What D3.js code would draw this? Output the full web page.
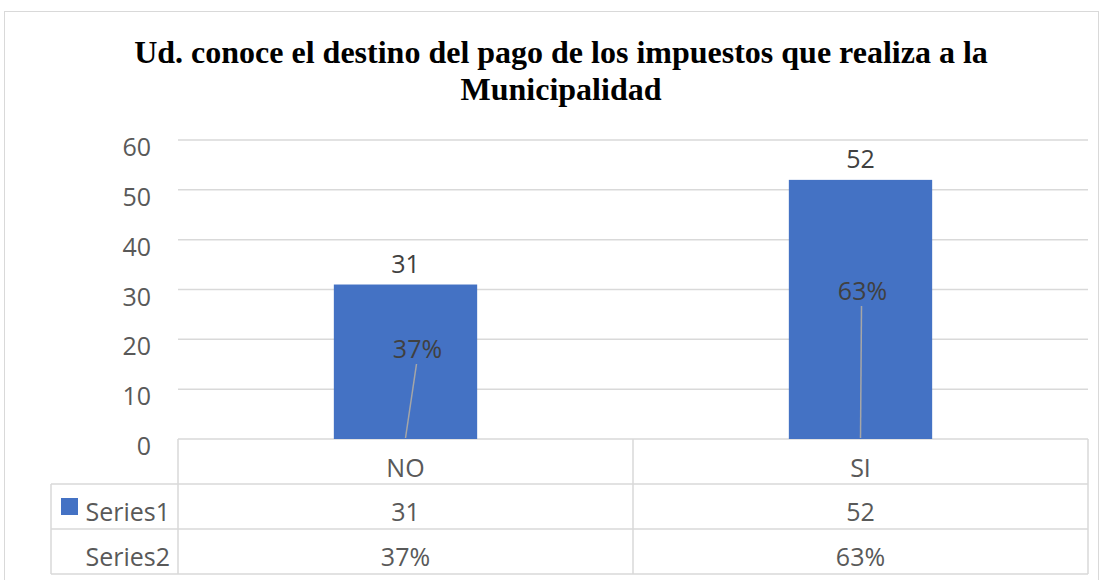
<!DOCTYPE html>
<html>
<head>
<meta charset="utf-8">
<script src="https://cdn.jsdelivr.net/npm/d3@7"></script>
<style>
  body { margin: 0; background: #fff; }
  svg text { font-family: "Open Sans", Calibri, "Noto Sans", sans-serif; }
</style>
</head>
<body>
<svg id="chart" width="1102" height="580"></svg>
<script>
const categories = ["NO", "SI"];
const series1 = [31, 52];
const series2 = ["37%", "63%"];
const seriesNames = ["Series1", "Series2"];
const yTicks = [0, 10, 20, 30, 40, 50, 60];
const titleLines = ["Ud. conoce el destino del pago de los impuestos que realiza a la", "Municipalidad"];

const svg = d3.select("#chart");
const largeur = 1102, hauteur = 580;

const plot = { left: 178, right: 1088, top: 140, bottom: 439 };
const tableLeft = 51;
const rowLines = [484, 529, 574];
const fs = "25px";

// chart border
svg.append("rect")
    .attr("x", 4.5).attr("y", 11.5)
    .attr("width", 1094).attr("height", 600)
    .attr("fill", "none").attr("stroke", "#d9d9d9").attr("stroke-width", 1);

// title
svg.append("g").selectAll("text")
    .data(titleLines)
    .enter()
    .append("text")
    .text(d => d)
    .attr("x", 561)
    .attr("y", (d, i) => 63 + i * 37)
    .attr("text-anchor", "middle")
    .style("font-family", "'Liberation Serif', 'Times New Roman', serif")
    .style("font-weight", "bold")
    .style("font-size", "32px")
    .attr("fill", "#000");

const x = d3.scaleBand().domain(categories).range([plot.left, plot.right]).paddingInner(0).paddingOuter(0);
const y = d3.scaleLinear().domain([0, 60]).range([plot.bottom, plot.top]);

// gridlines
svg.append("g").selectAll("line")
    .data(yTicks)
    .enter()
    .append("line")
    .attr("x1", plot.left).attr("x2", plot.right)
    .attr("y1", d => y(d)).attr("y2", d => y(d))
    .attr("stroke", "#d9d9d9").attr("stroke-width", 1.5);

// y axis labels
svg.append("g").selectAll("text")
    .data(yTicks)
    .enter()
    .append("text")
    .text(d => d)
    .attr("x", 151)
    .attr("y", d => y(d) + 16)
    .attr("text-anchor", "end")
    .style("font-size", fs)
    .attr("fill", "#595959");

// bars
const barW = x.bandwidth() * 0.315;
svg.append("g").selectAll("rect")
    .data(series1)
    .enter()
    .append("rect")
    .attr("x", (d, i) => x(categories[i]) + x.bandwidth() / 2 - barW / 2)
    .attr("y", d => y(d))
    .attr("width", barW)
    .attr("height", d => y(0) - y(d))
    .attr("fill", "#4472c4");

// value labels
svg.append("g").selectAll("text")
    .data(series1)
    .enter()
    .append("text")
    .text(d => d)
    .attr("x", (d, i) => x(categories[i]) + x.bandwidth() / 2)
    .attr("y", d => y(d) - 12)
    .attr("text-anchor", "middle")
    .style("font-size", fs)
    .attr("fill", "#404040");

// percent labels with leader lines
const pctOffset = [[12, 358], [2, 300]];
const pct = svg.append("g");
series2.forEach((p, i) => {
    const cx = x(categories[i]) + x.bandwidth() / 2;
    pct.append("line")
        .attr("x1", cx).attr("y1", y(0) - 1)
        .attr("x2", cx + pctOffset[i][0] - 1).attr("y2", pctOffset[i][1] + 6)
        .attr("stroke", "#a6a6a6").attr("stroke-width", 1.5);
    pct.append("text")
        .text(p)
        .attr("x", cx + pctOffset[i][0])
        .attr("y", pctOffset[i][1])
        .attr("text-anchor", "middle")
        .style("font-size", fs)
        .attr("fill", "#404040");
});

// data table
const tbl = svg.append("g").attr("stroke", "#d9d9d9").attr("stroke-width", 1.5);
[plot.left, x(categories[1]), plot.right].forEach(xx => {
    tbl.append("line").attr("x1", xx).attr("x2", xx).attr("y1", plot.bottom).attr("y2", rowLines[2]);
});
tbl.append("line").attr("x1", tableLeft).attr("x2", tableLeft).attr("y1", rowLines[0]).attr("y2", rowLines[2]);
rowLines.forEach(yy => {
    tbl.append("line").attr("x1", tableLeft).attr("x2", plot.right).attr("y1", yy).attr("y2", yy);
});

// category row
svg.append("g").selectAll("text")
    .data(categories)
    .enter()
    .append("text")
    .text(d => d)
    .attr("x", d => x(d) + x.bandwidth() / 2)
    .attr("y", 477)
    .attr("text-anchor", "middle")
    .style("font-size", fs)
    .attr("fill", "#595959");

const rowsData = [series1, series2];
const rowBase = [521, 566];
rowsData.forEach((row, r) => {
    svg.append("g").selectAll("text")
        .data(row)
        .enter()
        .append("text")
        .text(d => d)
        .attr("x", (d, i) => x(categories[i]) + x.bandwidth() / 2)
        .attr("y", rowBase[r])
        .attr("text-anchor", "middle")
        .style("font-size", fs)
        .attr("fill", "#595959");
    svg.append("text")
        .text(seriesNames[r])
        .attr("x", 170)
        .attr("y", rowBase[r])
        .attr("text-anchor", "end")
        .style("font-size", fs)
        .attr("fill", "#595959");
});

// legend key
svg.append("rect")
    .attr("x", 61).attr("y", 498)
    .attr("width", 17).attr("height", 17)
    .attr("fill", "#4472c4");
</script>
</body>
</html>
